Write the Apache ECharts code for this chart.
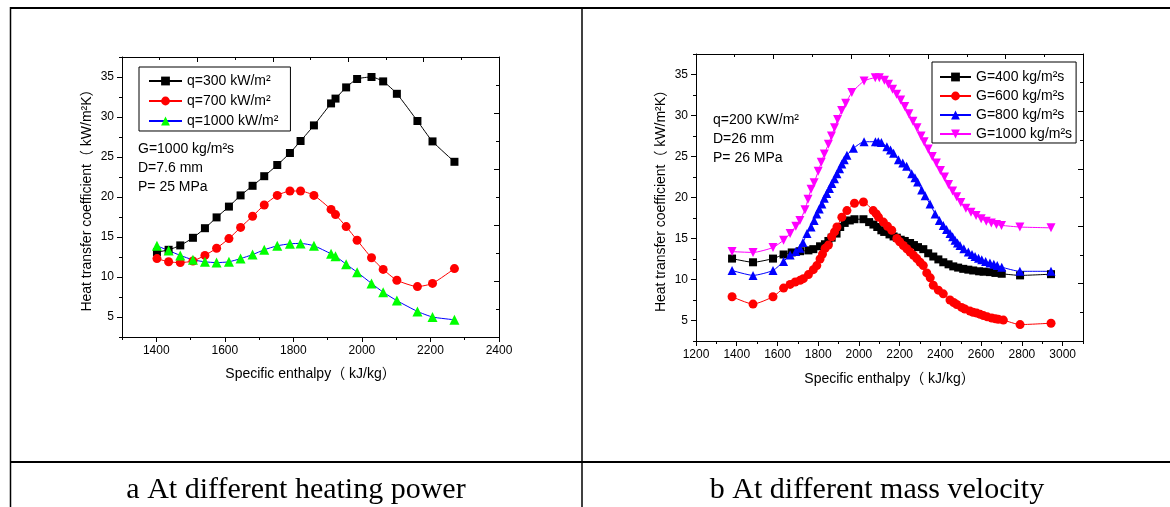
<!DOCTYPE html>
<html>
<head>
<meta charset="utf-8">
<script src="https://cdn.jsdelivr.net/npm/echarts@6.0.0/dist/echarts.min.js"></script>
<style>
html,body{margin:0;padding:0;background:#fff;}
#chart{width:1170px;height:507px;}
</style>
</head>
<body>
<div id="chart"></div>
<script>
// ---------- Panel a: different heating power ----------
const enthalpyA = [1402,1436,1470,1507,1542,1576,1612,1646,1681,1715,1753,1790,1821,1860,1910,1923,1954,1986,2028,2062,2102,2162,2206,2270];
const q300  = [13.1,13.4,13.95,14.9,16.1,17.45,18.8,20.2,21.4,22.6,24.0,25.5,27.0,28.95,31.7,32.3,33.7,34.75,35.0,34.45,32.9,29.5,26.95,24.4];
const q700  = [12.3,11.9,11.8,12.0,12.7,13.6,14.8,16.2,17.6,19.0,20.2,20.75,20.75,20.2,18.45,17.8,16.3,14.6,12.4,10.95,9.6,8.8,9.2,11.05];
const q1000 = [13.9,13.3,12.7,12.15,11.9,11.8,11.9,12.3,12.8,13.4,13.9,14.15,14.2,13.9,12.9,12.6,11.6,10.6,9.2,8.1,7.05,5.7,5.0,4.65];
const namesA = ['q=300 kW/m²','q=700 kW/m²','q=1000 kW/m²'];
const xTicksA = [1400,1600,1800,2000,2200,2400];
const xMinorA = [1300,1500,1700,1900,2100,2300];
const notesA = ['G=1000 kg/m²s','D=7.6 mm','P= 25 MPa'];

// ---------- Panel b: different mass velocity ----------
const hG400 = [1377,1480,1578,1630,1670,1711,1752,1776,1809,1833,1850,1866,1890,1908,1930,1955,1978,2022,2050,2071,2090,2110,2124,2150,2170,2186,2205,2225,2251,2270,2290,2316,2340,2365,2390,2414,2440,2463,2487,2512,2537,2561,2590,2612,2643,2670,2701,2791,2943];
const G400  = [12.55,12.1,12.55,13.05,13.3,13.45,13.55,13.7,14.05,14.3,14.7,15.1,15.6,16.4,16.9,17.2,17.35,17.35,17.0,16.7,16.4,16.0,15.8,15.5,15.25,15.1,14.85,14.7,14.45,14.2,13.95,13.7,13.2,12.8,12.45,12.1,11.85,11.6,11.45,11.3,11.2,11.1,11.0,10.95,10.9,10.8,10.7,10.5,10.65];
const hG600 = [1377,1480,1578,1630,1662,1687,1711,1727,1752,1776,1793,1809,1821,1834,1850,1866,1880,1892,1916,1941,1978,2022,2070,2085,2096,2120,2140,2161,2186,2200,2218,2235,2251,2268,2284,2300,2316,2333,2350,2365,2390,2414,2447,2465,2480,2504,2520,2545,2560,2578,2595,2611,2630,2652,2670,2684,2709,2791,2943];
const G600  = [7.9,7.0,7.9,8.95,9.4,9.7,9.9,10.1,10.6,11.2,11.7,12.5,13.1,13.8,14.2,15.2,15.8,16.4,17.6,18.4,19.3,19.45,18.4,18.0,17.6,17.0,16.5,16.0,15.0,14.6,14.15,13.75,13.35,12.95,12.55,12.1,11.7,10.8,10.2,9.3,8.7,8.25,7.5,7.2,6.95,6.6,6.4,6.15,6.0,5.9,5.75,5.6,5.45,5.3,5.2,5.15,5.05,4.5,4.67];
const hG800 = [1377,1480,1578,1630,1662,1690,1710,1725,1745,1765,1780,1793,1805,1818,1830,1842,1855,1867,1880,1892,1905,1916,1928,1941,1973,2025,2081,2095,2110,2137,2155,2170,2194,2215,2234,2259,2275,2288,2308,2325,2349,2374,2395,2414,2430,2447,2460,2472,2484,2496,2515,2537,2555,2570,2587,2603,2622,2643,2662,2679,2701,2790,2943];
const G800  = [11.1,10.5,11.1,12.2,13.0,13.4,13.8,14.5,15.6,16.4,17.2,18.0,18.6,19.2,19.9,20.5,21.1,21.7,22.3,22.9,23.5,24.1,24.6,25.15,26.0,26.8,26.8,26.8,26.7,26.2,25.8,25.4,24.6,24.2,23.8,22.9,22.4,21.9,20.9,20.2,19.2,18.0,17.2,16.6,16.1,15.6,15.2,14.8,14.45,14.15,13.75,13.35,13.05,12.8,12.6,12.4,12.2,12.0,11.85,11.7,11.5,11.0,11.0];
const hG1000 = [1377,1480,1578,1630,1662,1690,1710,1735,1750,1765,1780,1800,1815,1830,1850,1865,1880,1895,1915,1935,1965,2025,2080,2100,2125,2145,2165,2185,2205,2225,2245,2265,2285,2305,2320,2340,2360,2380,2400,2420,2440,2460,2480,2500,2525,2550,2575,2600,2625,2650,2675,2700,2790,2943];
const G1000  = [13.4,13.3,13.9,14.8,15.6,16.5,17.2,18.5,19.8,21.0,21.8,23.2,24.3,25.3,26.5,27.5,28.5,29.5,30.6,31.5,32.8,34.2,34.6,34.6,34.3,33.8,33.2,32.6,31.9,31.1,30.2,29.3,28.5,27.5,26.8,25.9,25.0,24.2,23.3,22.5,21.6,20.8,20.1,19.4,18.7,18.2,17.8,17.4,17.1,16.9,16.7,16.6,16.4,16.3];
const namesB = ['G=400 kg/m²s','G=600 kg/m²s','G=800 kg/m²s','G=1000 kg/m²s'];
const xTicksB = [1200,1400,1600,1800,2000,2200,2400,2600,2800,3000];
const xMinorB = [1300,1500,1700,1900,2100,2300,2500,2700,2900,3100];
const notesB = ['q=200 KW/m²','D=26 mm','P= 26 MPa'];

// shared y ticks
const yTicks = [5,10,15,20,25,30,35];
const yMinor = [2.5,7.5,12.5,17.5,22.5,27.5,32.5,37.5];
const frameMajor = [0,2,4,6,8,10];
const frameMinor = [1,3,5,7,9];

const xTitle = 'Specific enthalpy（ kJ/kg）';
const yTitle = 'Heat transfer coefficient（ kW/m²K）';
const captionA = 'a At different heating power';
const captionB = 'b At different mass velocity';

const FONT = '"Liberation Sans", Arial, "Noto Sans CJK SC", sans-serif';
const lineBlack = {show:true, lineStyle:{color:'#000', width:1}};

function axisSet(grid, pos, min, max, major, minor, withLabel, name, nameGap) {
  const main = {
    type:'value', gridIndex:grid, position:pos, min:min, max:max,
    axisLine: lineBlack,
    axisTick:{show:true, inside:(pos==='top'||pos==='right'), length:5, customValues:major, lineStyle:{color:'#000', width:1}},
    axisLabel: withLabel ? {show:true, customValues:major, color:'#000', fontSize:12, fontFamily:FONT, margin:8,
                            formatter:(v)=>String(v)} : {show:false},
    splitLine:{show:false}
  };
  if (name) {
    Object.assign(main, {name:name, nameLocation:'middle', nameGap:nameGap,
      nameTextStyle:{color:'#000', fontSize:14, fontFamily:FONT}});
  }
  const mnr = {
    type:'value', gridIndex:grid, position:pos, min:min, max:max,
    axisLine:{show:false},
    axisTick:{show:true, inside:(pos==='top'||pos==='right'), length:3, customValues:minor, lineStyle:{color:'#000', width:1}},
    axisLabel:{show:false}, splitLine:{show:false}
  };
  return [main, mnr];
}

const xAxes = [
  ...axisSet(0,'bottom',1300,2400,xTicksA,xMinorA,true,xTitle,30),   // 0,1
  ...axisSet(0,'top',0,10,frameMajor,frameMinor,false),              // 2,3
  ...axisSet(1,'bottom',1200,3100,xTicksB,xMinorB,true,xTitle,31),   // 4,5
  ...axisSet(1,'top',0,10,frameMajor,frameMinor,false)               // 6,7
];
const yAxes = [
  ...axisSet(0,'left',2.5,37.5,yTicks,yMinor,true,yTitle,28),        // 0,1
  ...axisSet(0,'right',0,10,frameMajor,frameMinor,false),            // 2,3
  ...axisSet(1,'left',2.5,37.5,yTicks,yMinor,true,yTitle,28),        // 4,5
  ...axisSet(1,'right',0,10,frameMajor,frameMinor,false)             // 6,7
];

const downTri = 'path://M0,0 L10,0 L5,9 Z';

function mk(name, xs, ys, xi, yi, symbol, size, fill, lineColor) {
  return {
    name:name, type:'line', xAxisIndex:xi, yAxisIndex:yi,
    data: xs.map((x,i)=>[x, ys[i]]),
    symbol:symbol, symbolSize:size, showSymbol:true, smooth:0.2,
    itemStyle:{color:fill, borderWidth:0},
    lineStyle:{color:lineColor, width:1},
    emphasis:{disabled:true}, animation:false, z:3
  };
}

const series = [
  mk(namesA[0], enthalpyA, q300, 0, 0, 'rect', 8, '#000', '#000'),
  mk(namesA[1], enthalpyA, q700, 0, 0, 'circle', 9, '#ff0000', '#ff0000'),
  mk(namesA[2], enthalpyA, q1000, 0, 0, 'triangle', 10, '#00ff00', '#0000ff'),
  mk(namesB[0], hG400, G400, 4, 4, 'rect', 8, '#000', '#000'),
  mk(namesB[1], hG600, G600, 4, 4, 'circle', 9, '#ff0000', '#ff0000'),
  mk(namesB[2], hG800, G800, 4, 4, 'triangle', 9, '#0000ff', '#0000ff'),
  mk(namesB[3], hG1000, G1000, 4, 4, downTri, 9, '#ff00ff', '#ff00ff')
];

function noteTexts(lines, x, y0, step) {
  return lines.map((t,i)=>({type:'text', left:x, top:y0 + i*step,
    style:{text:t, fill:'#000', font:'14px ' + FONT}}));
}

const graphics = [
  // table lines
  {type:'line', shape:{x1:10, y1:8, x2:1170, y2:8}, style:{stroke:'#000', lineWidth:2}},
  {type:'line', shape:{x1:10, y1:462, x2:1170, y2:462}, style:{stroke:'#000', lineWidth:2}},
  {type:'line', shape:{x1:10.5, y1:7, x2:10.5, y2:507}, style:{stroke:'#000', lineWidth:1.5}},
  {type:'line', shape:{x1:582, y1:7, x2:582, y2:507}, style:{stroke:'#000', lineWidth:1.5}},
  {type:'text', x:296, y:490, style:{text:captionA, fill:'#000', font:'30px "Liberation Serif", "Times New Roman", serif', align:'center', verticalAlign:'middle'}},
  {type:'text', x:877, y:490, style:{text:captionB, fill:'#000', font:'30px "Liberation Serif", "Times New Roman", serif', align:'center', verticalAlign:'middle'}},
  ...noteTexts(notesA, 138, 142, 19),
  ...noteTexts(notesB, 713, 113, 19)
];

const chart = echarts.init(document.getElementById('chart'), null, {renderer:'canvas'});
chart.setOption({
  animation:false,
  backgroundColor:'#fff',
  textStyle:{fontFamily:FONT},
  grid:[
    {left:122, top:57, width:377, height:280, containLabel:false},
    {left:696, top:54, width:387, height:287, containLabel:false}
  ],
  xAxis:xAxes,
  yAxis:yAxes,
  legend:[
    {data:namesA, orient:'vertical', left:139, top:67, itemWidth:33, itemHeight:11, itemGap:6,
     padding:[7,12,3,9], borderColor:'#000', borderWidth:1, selectedMode:false,
     textStyle:{color:'#000', fontSize:14, fontFamily:FONT}},
    {data:namesB, orient:'vertical', left:932, top:62, itemWidth:31, itemHeight:11, itemGap:5,
     padding:[8,4,2,7], borderColor:'#000', borderWidth:1, selectedMode:false,
     textStyle:{color:'#000', fontSize:14, fontFamily:FONT}}
  ],
  series:series,
  graphic:graphics
});
</script>
</body>
</html>
